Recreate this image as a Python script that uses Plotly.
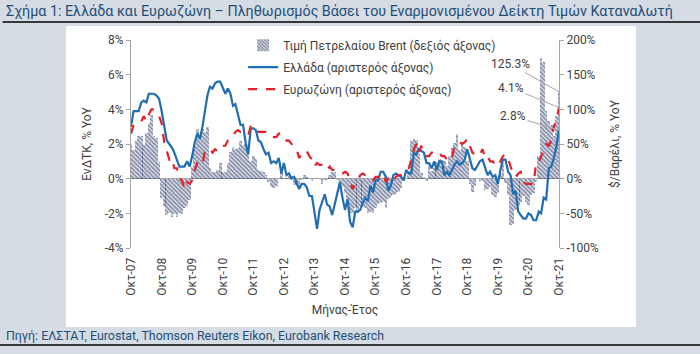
import plotly.graph_objects as go
import pandas as pd

# Monthly data, Oct-2007 .. Oct-2021
months = pd.date_range("2007-10-01", "2021-10-01", freq="MS")

greece = [
    3.0, 3.9, 3.9,
    3.9, 4.4, 4.5, 4.4, 4.9, 4.9, 4.9, 4.8, 4.6, 3.9, 3.0, 2.2,
    2.0, 1.8, 1.5, 1.1, 0.7, 0.7, 0.7, 1.0, 0.7, 1.3, 2.1, 2.6,
    2.3, 3.0, 3.9, 4.8, 5.3, 5.2, 5.5, 5.6, 5.6, 5.2, 4.9, 5.2,
    4.9, 4.2, 4.3, 3.7, 3.1, 3.1, 2.1, 1.4, 2.9, 2.9, 2.8, 2.2,
    2.1, 1.7, 1.4, 1.5, 0.9, 1.0, 0.9, 1.2, 0.3, 0.9, 0.2, 0.3,
    0.0, 0.1, -0.2, -0.6, -0.3, -0.3, -0.5, -1.0, -1.0, -1.9, -2.9, -1.8,
    -1.4, -0.9, -1.5, -1.6, -2.1, -1.5, -0.8, -0.2, -1.1, -1.8, -1.2, -2.5,
    -2.8, -1.9, -1.9, -1.8, -1.4, -1.1, -1.3, -0.4, -0.8, -0.1, -0.1, 0.4,
    0.4, 0.1, -0.7, -0.4, 0.2, 0.3, 0.2, 0.1, -0.1, 0.5, 0.3, 0.3,
    1.5, 1.4, 1.7, 1.6, 1.5, 0.9, 0.9, 0.6, 1.0, 0.5, 1.0, 1.0,
    0.2, 0.4, 0.2, 0.5, 0.8, 1.0, 0.8, 0.9, 1.1, 1.7, 1.1, 0.6,
    0.5, 0.8, 1.0, 1.1, 0.6, 0.2, 0.4, 0.1, 0.2, -0.3, 0.5, 1.1,
    1.1, 0.4, 0.2, -0.9, -0.7, -1.9, -2.1, -2.3, -2.3, -2.0, -2.1, -2.4,
    -2.4, -1.9, -2.0, -1.1, -1.2, 0.6, 0.7, 1.2, 1.9, 2.8,
]

eurozone = [
    2.6, 3.1, 3.1,
    3.2, 3.3, 3.6, 3.3, 3.7, 4.0, 4.0, 3.8, 3.6, 3.2, 2.1, 1.6,
    1.1, 1.2, 0.6, 0.6, 0.0, -0.1, -0.6, -0.2, -0.3, -0.1, 0.5, 0.9,
    0.9, 0.8, 1.6, 1.6, 1.7, 1.5, 1.7, 1.6, 1.9, 1.9, 1.9, 2.2,
    2.3, 2.4, 2.7, 2.8, 2.7, 2.7, 2.6, 2.5, 3.0, 3.0, 3.0, 2.7,
    2.7, 2.7, 2.7, 2.6, 2.4, 2.4, 2.4, 2.6, 2.6, 2.5, 2.2, 2.2,
    2.0, 1.8, 1.7, 1.2, 1.4, 1.6, 1.6, 1.3, 1.1, 0.7, 0.9, 0.8,
    0.8, 0.7, 0.5, 0.7, 0.5, 0.5, 0.4, 0.4, 0.3, 0.4, 0.3, -0.2,
    -0.6, -0.3, -0.1, 0.2, 0.3, 0.2, 0.2, 0.1, -0.1, 0.1, 0.1, 0.2,
    0.3, -0.2, 0.0, -0.2, -0.1, 0.1, 0.2, 0.2, 0.4, 0.5, 0.6, 1.1,
    1.7, 2.0, 1.5, 1.9, 1.4, 1.3, 1.3, 1.5, 1.5, 1.4, 1.5, 1.3,
    1.3, 1.1, 1.3, 1.2, 1.9, 2.0, 2.1, 2.0, 2.1, 2.3, 1.9, 1.5,
    1.4, 1.5, 1.4, 1.7, 1.2, 1.3, 1.0, 1.0, 0.8, 0.7, 1.0, 1.3,
    1.4, 1.2, 0.7, 0.3, 0.1, 0.3, 0.4, -0.2, -0.3, -0.3, -0.3, -0.3,
    0.9, 0.9, 1.3, 1.6, 2.0, 1.9, 2.2, 3.0, 3.4, 4.1,
]

brent = [
    50, 42, 55,
    61, 61, 49, 66, 81, 92, 61, 58, 24, -28, -40, -52,
    -50, -55, -51, -55, -49, -51, -43, -40, -31, 17, 47, 72,
    57, 71, 67, 74, 15, 9, 10, 12, 22, 9, 9, 23,
    39, 45, 43, 44, 55, 49, 50, 49, 26, 33, 29, 13,
    11, 9, 5, -5, -12, -13, -10, 0, 9, -1, 1, 4,
    4, -9, -11, -14, -2, 6, 2, 0, -4, 0, -1, 0,
    -8, -2, -2, 6, 10, 9, -2, -10, -12, -21, -36, -49,
    -50, -43, -49, -39, -41, -43, -50, -48, -49, -43, -36, -35,
    -34, -42, -29, -27, -23, -22, -19, -13, 2, 0, 11, 54,
    57, 56, 36, 8, 2, -4, 24, 11, 16, 24, 28, 18,
    25, 18, 32, 44, 51, 65, 42, 50, 46, 25, -8, -19,
    -10, 0, -3, -4, -17, -15, -12, -23, -27, -21, 7, 22,
    -6, -24, -67, -65, -45, -39, -33, -25, -33, -38, -24, -21,
    -5, 32, 174, 168, 97, 83, 77, 62, 90, 125.3,
]

tick_dates = pd.date_range("2007-10-01", "2021-10-01", freq="12MS")
tick_text = ["Οκτ-%02d" % (d.year % 100) for d in tick_dates]

left_ticks = [-4, -2, 0, 2, 4, 6, 8]
right_ticks = [-100, -50, 0, 50, 100, 150, 200]

FONT = "Roboto"
GREY_TXT = "#404040"
AXIS_GREY = "#a6a6a6"
NAVY = "#17255a"
BLUE = "#1f6db3"
RED = "#e2202a"
TITLE_BLUE = "#1f4e79"
BG = "#d5dce4"

fig = go.Figure()

fig.add_trace(go.Bar(
    x=months, y=brent, name="Τιμή Πετρελαίου Brent (δεξιός άξονας)",
    yaxis="y", legendgroup="a",
    marker=dict(color="rgba(0,0,0,0)", line=dict(width=0),
                pattern=dict(shape="\\", fgcolor=NAVY, bgcolor="rgba(0,0,0,0)",
                             size=3, solidity=0.7)),
    width=31 * 24 * 3600 * 1000,
))
fig.add_trace(go.Scatter(
    x=months, y=greece, name="Ελλάδα (αριστερός άξονας)", yaxis="y2",
    legendgroup="b", mode="lines", line=dict(color=BLUE, width=2.2),
))
fig.add_trace(go.Scatter(
    x=months, y=eurozone, name="Ευρωζώνη (αριστερός άξονας)", yaxis="y2",
    legendgroup="c", mode="lines", line=dict(color=RED, width=2.2, dash="dash"),
))

tick_font = dict(family=FONT, size=12, color=GREY_TXT)

fig.update_layout(
    width=700, height=354,
    margin=dict(l=131, r=141, t=40, b=106, autoexpand=False),
    paper_bgcolor=BG, plot_bgcolor="white",
    font=dict(family=FONT, size=12, color=GREY_TXT),
    bargap=0,
    showlegend=True,
    legend=dict(x=0.262, y=1.045, xanchor="left", yanchor="top",
                bgcolor="rgba(0,0,0,0)", font=dict(family=FONT, size=12, color=GREY_TXT),
                tracegroupgap=3, traceorder="grouped"),
    xaxis=dict(type="date", range=[months[0], months[-1]],
               tickvals=list(tick_dates), ticktext=tick_text, tickangle=-90,
               tickfont=tick_font, showgrid=False, showline=False,
               ticks="outside", ticklen=4, tickcolor="rgba(0,0,0,0)",
               zeroline=False,
               title=dict(text="Μήνας-Έτος", font=dict(family=FONT, size=12, color=GREY_TXT), standoff=10)),
    yaxis=dict(side="right", range=[-100, 200], tickvals=right_ticks,
               ticktext=["%d%%" % v for v in right_ticks], tickfont=tick_font,
               showgrid=False, zeroline=False, showline=True, linecolor=AXIS_GREY,
               ticks="outside", ticklen=4, tickcolor=AXIS_GREY,
               title=dict(text="$/Βαρέλι, % YoY", font=dict(family=FONT, size=12, color=GREY_TXT), standoff=12)),
    yaxis2=dict(side="left", overlaying="y", range=[-4, 8], tickvals=left_ticks,
                ticktext=["%d%%" % v for v in left_ticks], tickfont=tick_font,
                showgrid=False, zeroline=True, zerolinecolor=AXIS_GREY, zerolinewidth=1,
                showline=True, linecolor=AXIS_GREY,
                ticks="outside", ticklen=4, tickcolor=AXIS_GREY,
                title=dict(text="ΕνΔΤΚ, % YoY", font=dict(family=FONT, size=12, color=GREY_TXT), standoff=10)),
)

# Background panel and rules
fig.add_shape(type="rect", xref="paper", yref="paper", x0=-0.152, x1=1.18, y0=-0.38, y1=1.067,
              fillcolor="white", line=dict(width=0), layer="below")
fig.add_shape(type="line", xref="paper", yref="paper", x0=-0.30, x1=1.33, y0=1.0865, y1=1.0865,
              line=dict(color="black", width=1.5))
fig.add_shape(type="line", xref="paper", yref="paper", x0=-0.31, x1=1.33, y0=-0.466, y1=-0.466,
              line=dict(color="black", width=1.5))

fig.add_annotation(text="Σχήμα 1: Ελλάδα και Ευρωζώνη – Πληθωρισμός Βάσει του Εναρμονισμένου Δείκτη Τιμών Καταναλωτή",
                   xref="paper", yref="paper", x=-0.297, y=1.138, xanchor="left", yanchor="middle",
                   showarrow=False, font=dict(family=FONT, size=14.3, color=TITLE_BLUE))
fig.add_annotation(text="Πηγή: ΕΛΣΤΑΤ, Eurostat, Thomson Reuters Eikon, Eurobank Research",
                   xref="paper", yref="paper", x=-0.297, y=-0.422, xanchor="left", yanchor="middle",
                   showarrow=False, font=dict(family=FONT, size=12.4, color=TITLE_BLUE))

# Last-value call-outs
ann_font = dict(family=FONT, size=12, color=GREY_TXT)
fig.add_annotation(x=months[-1], y=brent[-1], xref="x", yref="y", text="%.1f%%" % brent[-1],
                   showarrow=True, arrowhead=0, arrowwidth=1, arrowcolor=AXIS_GREY,
                   ax=-49, ay=-28, font=ann_font)
fig.add_annotation(x=months[-1], y=eurozone[-1], xref="x", yref="y2", text="%.1f%%" % eurozone[-1],
                   showarrow=True, arrowhead=0, arrowwidth=1, arrowcolor=AXIS_GREY,
                   ax=-48, ay=-20, font=ann_font)
fig.add_annotation(x=months[-1], y=greece[-1], xref="x", yref="y2", text="%.1f%%" % greece[-1],
                   showarrow=True, arrowhead=0, arrowwidth=1, arrowcolor=AXIS_GREY,
                   ax=-46, ay=-14, font=ann_font)

fig.write_html("out.html")
